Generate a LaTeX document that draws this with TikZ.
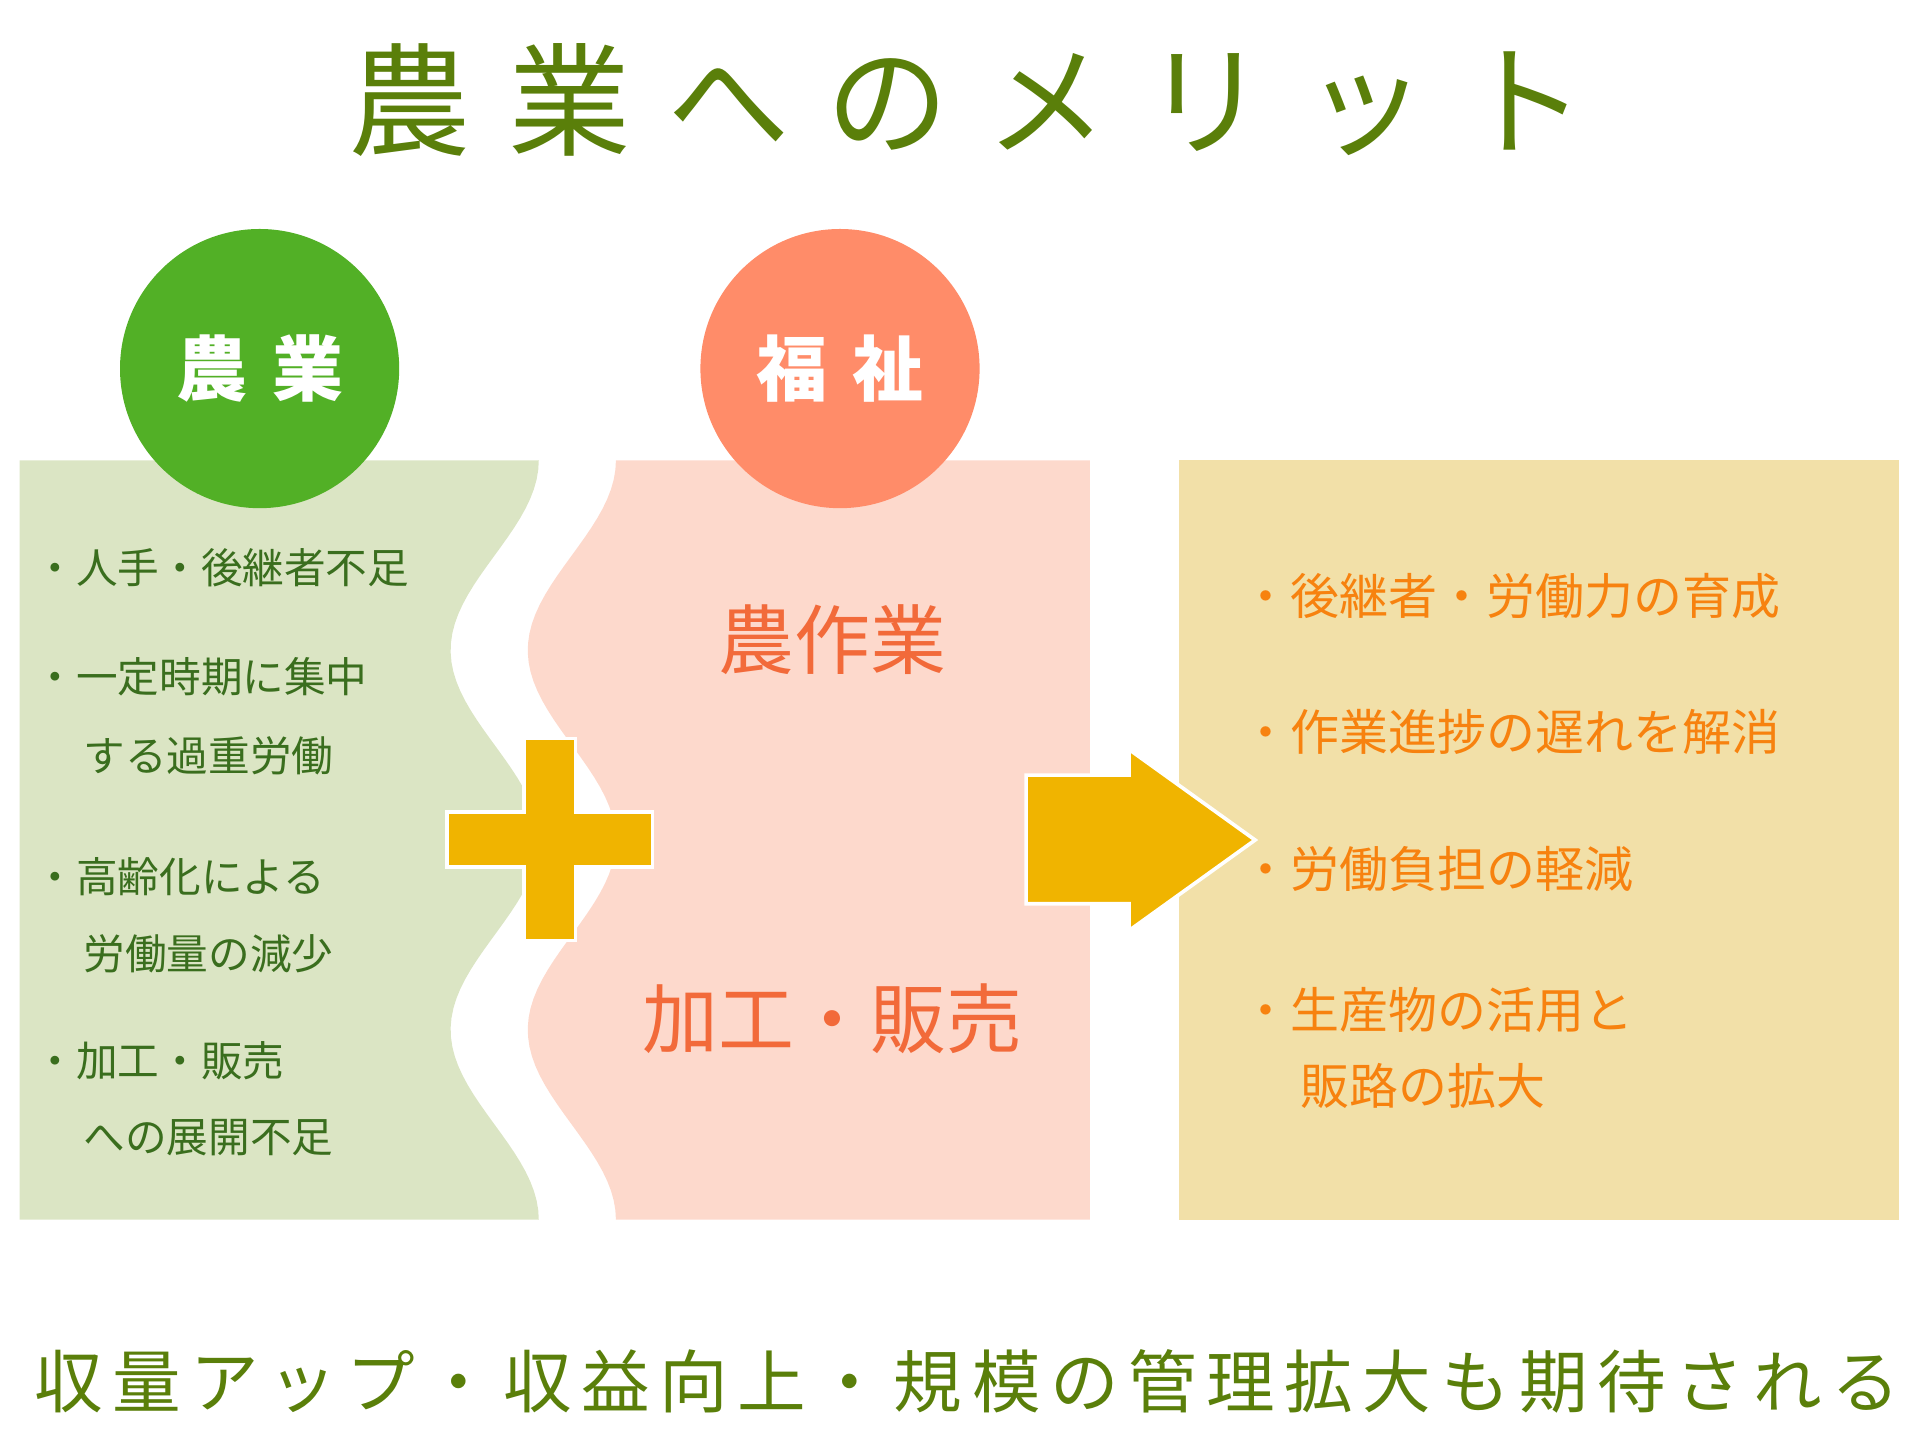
\documentclass[tikz,border=0pt]{standalone}
\usepackage{fontspec}
\setmainfont{Noto Sans CJK JP}
\definecolor{titlegreen}{HTML}{5A7F0A}
\definecolor{nogreen}{HTML}{52B026}
\definecolor{fukuorange}{HTML}{FF8C69}
\definecolor{leftbg}{HTML}{DBE5C4}
\definecolor{midbg}{HTML}{FDD9CC}
\definecolor{rightbg}{HTML}{F2E0A8}
\definecolor{lefttext}{HTML}{3A6E1E}
\definecolor{midtext}{HTML}{F26A3A}
\definecolor{righttext}{HTML}{F7820F}
\definecolor{plusyellow}{HTML}{F0B400}
\tikzset{
  circ/.style={circle,minimum size=228pt,inner sep=0pt,text=white,font=\fontsize{58}{60}\selectfont\bfseries},
  ltext/.style={anchor=west,inner sep=0pt,text=lefttext,font=\fontsize{34}{36}\selectfont},
  rtext/.style={anchor=west,inner sep=0pt,text=righttext,font=\fontsize{40}{42}\selectfont},
  mtext/.style={inner sep=0pt,text=midtext,font=\fontsize{62}{64}\selectfont},
  sign/.style={fill=plusyellow,draw=white,line width=3pt,line join=miter}
}
\begin{document}
\begin{tikzpicture}[x=1pt,y=-1pt]
\useasboundingbox (0,0) rectangle (1568,1176);
% title
\node[inner sep=0pt,text=titlegreen,font=\fontsize{100}{104}\selectfont\addfontfeature{LetterSpace=30}] (title) at (790,82) {農業へのメリット};
% panels
\fill[leftbg] (16,376) -- plot[domain=376:996,samples=80,variable=\t] ({404+36*cos(1.16129*(\t-376))},\t) -- (16,996) -- cycle;
\fill[midbg] (890,376) -- plot[domain=376:996,samples=80,variable=\t] ({467+36*cos(1.16129*(\t-376))},\t) -- (890,996) -- cycle;
\fill[rightbg] (963,376) rectangle (1551,996);
% circles
\node[circ,fill=nogreen] (nogyo) at (212,301) {農\hspace{0.35em}業};
\node[circ,fill=fukuorange] (fukushi) at (686,301) {福\hspace{0.35em}祉};
% left list
\node[ltext] (l1) at (28,464) {・人手・後継者不足};
\node[ltext] (l2) at (28,553) {・一定時期に集中};
\node[ltext] (l2b) at (68,617) {する過重労働};
\node[ltext] (l3) at (28,716) {・高齢化による};
\node[ltext] (l3b) at (68,779) {労働量の減少};
\node[ltext] (l4) at (28,866) {・加工・販売};
\node[ltext] (l4b) at (68,929) {への展開不足};
% middle
\node[mtext] (m1) at (680,522) {農作業};
\node[mtext] (m2) at (680,832) {加工・販売};
% plus and arrow
\draw[sign] (428,603) -- (470,603) -- (470,663) -- (533,663) -- (533,708) -- (470,708) -- (470,768) -- (428,768) -- (428,708) -- (365,708) -- (365,663) -- (428,663) -- cycle;
\draw[sign] (838,633) -- (922,633) -- (922,612) -- (1025,686) -- (922,760) -- (922,738) -- (838,738) -- cycle;
% right list
\node[rtext] (r1) at (1014,487) {・後継者・労働力の育成};
\node[rtext] (r2) at (1014,598) {・作業進捗の遅れを解消};
\node[rtext] (r3) at (1014,710) {・労働負担の軽減};
\node[rtext] (r4) at (1014,825) {・生産物の活用と};
\node[rtext] (r4b) at (1062,887) {販路の拡大};
% bottom
\node[inner sep=0pt,text=titlegreen,font=\fontsize{56}{60}\selectfont\addfontfeature{LetterSpace=14}] (bottom) at (790,1128) {収量アップ・収益向上・規模の管理拡大も期待される};
\end{tikzpicture}
\end{document}
